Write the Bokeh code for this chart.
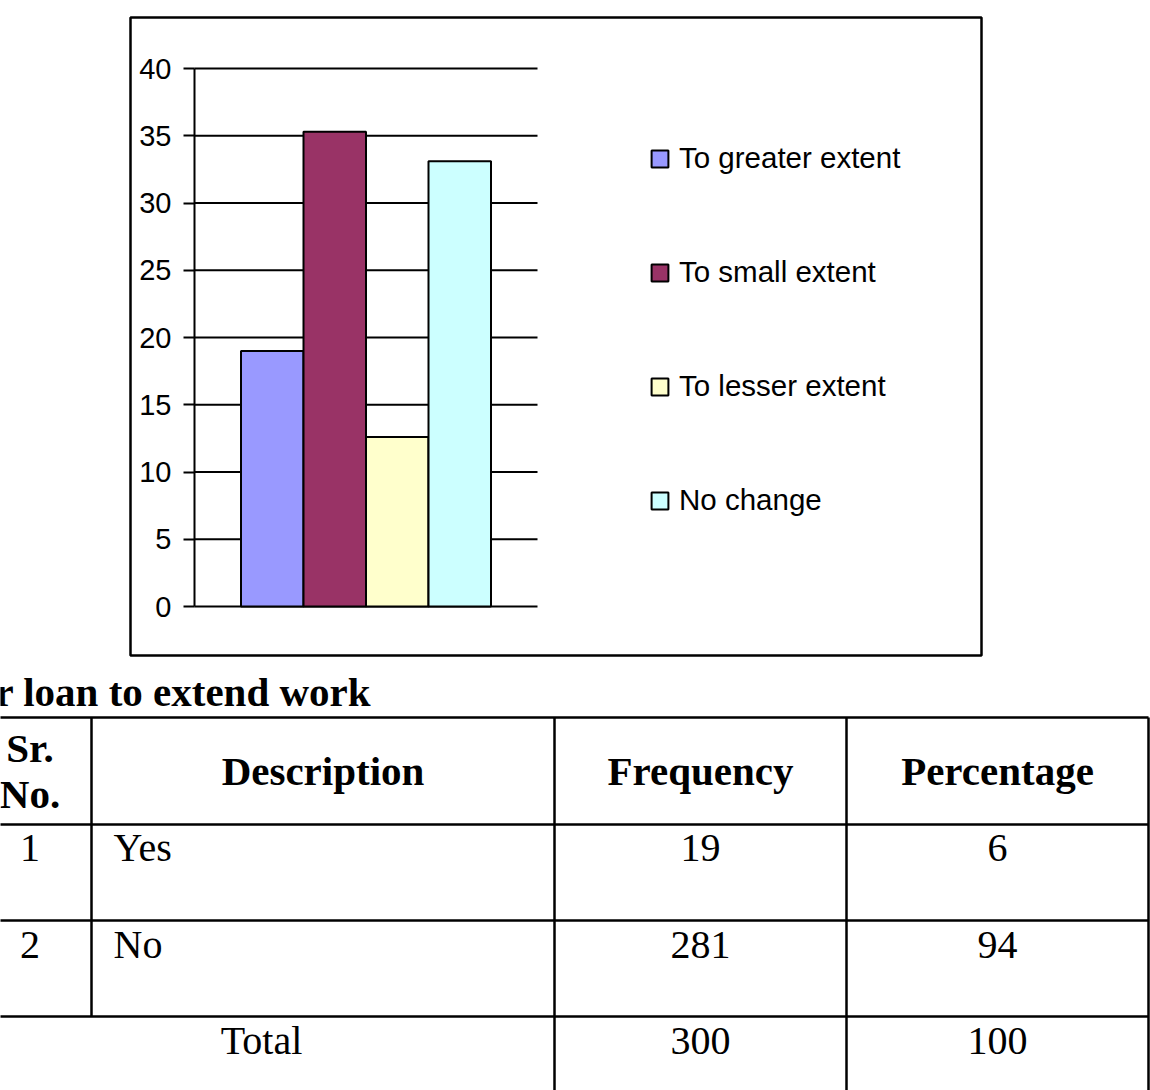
from bokeh.plotting import figure
from bokeh.models import Range1d, FixedTicker, Legend, LegendItem, LinearAxis
from bokeh.core.properties import value
from bokeh.embed import file_html
from bokeh.resources import INLINE

# ---------------- data ----------------
series = ["To greater extent", "To small extent", "To lesser extent", "No change"]
values = [19.0, 35.3, 12.6, 33.1]
colors = ["#9999FF", "#993366", "#FFFFCC", "#CCFFFF"]
y_ticks = [0, 5, 10, 15, 20, 25, 30, 35, 40]

table_title = "r loan to extend work"
header_sr = ["Sr.", "No."]
headers = ["Description", "Frequency", "Percentage"]
sr_no = ["1", "2"]
descriptions = ["Yes", "No"]
frequency = [19, 281]
percentage = [6, 94]
total_label = "Total"
total_frequency = 300
total_percentage = 100

# ---------------- page layout constants (pixels) ----------------
W, H = 1150, 1090
BOX = dict(left=130, right=981, top=17, bottom=655)     # chart border
AX_X, PLOT_R = 194, 537                                  # value axis / right end of gridlines
PY0, PY40 = 606, 68                                      # pixel rows of 0 and 40
BAR_PX = 62.5                                            # width of one bar
GROUP_L = 240.5                                          # left edge of first bar
SANS = value("Liberation Sans")
SERIF = value("Liberation Serif")
TY = -13                                                 # baseline correction for table text

# chart coordinate systems (extra ranges mapped onto the page)
ypx = (PY0 - PY40) / 40.0
val_range = Range1d(-(H - PY0) / ypx, PY0 / ypx)
bar_range = Range1d(-GROUP_L / BAR_PX, (W - GROUP_L) / BAR_PX)
ax_loc = (AX_X - GROUP_L) / BAR_PX
grid_end = (PLOT_R - GROUP_L) / BAR_PX

p = figure(width=W, height=H,
           x_range=Range1d(0, W), y_range=Range1d(H, 0),
           output_backend="svg", toolbar_location=None,
           x_axis_location=None, y_axis_location=None,
           min_border_left=0, min_border_right=0, min_border_top=0, min_border_bottom=0)
p.extra_x_ranges = {"bars": bar_range}
p.extra_y_ranges = {"val": val_range}
p.grid.visible = False
p.outline_line_color = None
p.background_fill_color = "white"
p.border_fill_color = "white"

# ---------------- chart ----------------
p.quad(left=[BOX["left"]], right=[BOX["right"]], top=[BOX["top"]], bottom=[BOX["bottom"]],
       fill_alpha=0, line_color="black", line_width=2.5)

p.segment(x0=[ax_loc] * len(y_ticks), x1=[grid_end] * len(y_ticks), y0=y_ticks, y1=y_ticks,
          x_range_name="bars", y_range_name="val", line_color="black", line_width=2)

renderers = []
for i, (name, v, c) in enumerate(zip(series, values, colors)):
    r = p.vbar(x=[i + 0.5], top=[v], bottom=0, width=1.0,
               x_range_name="bars", y_range_name="val",
               fill_color=c, line_color="black", line_width=2)
    renderers.append(r)

ticker = FixedTicker(ticks=y_ticks)
yax = LinearAxis(x_range_name="bars", y_range_name="val", fixed_location=ax_loc,
                 bounds=(0, 40), ticker=ticker)
yax.axis_line_color = "black"
yax.axis_line_width = 2
yax.major_tick_line_color = "black"
yax.major_tick_line_width = 2
yax.major_tick_out = 11
yax.major_tick_in = 0
yax.minor_tick_line_color = None
yax.major_label_standoff = 12
yax.major_label_text_font = "Liberation Sans"
yax.major_label_text_font_size = "29px"
yax.major_label_text_color = "black"
p.add_layout(yax, "left")

legend = Legend(items=[LegendItem(label=s, renderers=[r]) for s, r in zip(series, renderers)],
                location=(649, H - 517), orientation="vertical",
                padding=0, margin=0, spacing=80,
                glyph_width=21, glyph_height=21, label_height=32, label_standoff=9,
                label_text_font="Liberation Sans", label_text_font_size="29.5px",
                label_text_color="black",
                border_line_color=None, background_fill_alpha=0)
p.add_layout(legend, "center")

# ---------------- table ----------------
col_edges = [-32, 91, 554, 846, 1148]
row_edges = [717, 824, 920, 1016, 1112]
col_centers = [(a + b) / 2 for a, b in zip(col_edges[:-1], col_edges[1:])]

p.segment(x0=[col_edges[0]] * 4, x1=[col_edges[-1]] * 4, y0=row_edges[:4], y1=row_edges[:4],
          line_color="black", line_width=2.5)
vx = col_edges[1:]
vy1 = [row_edges[3], row_edges[4], row_edges[4], row_edges[4]]
p.segment(x0=vx, x1=vx, y0=[row_edges[0]] * 4, y1=vy1, line_color="black", line_width=2.5)

p.text(x=[-5], y=[704 + TY], text=[table_title], text_font=SERIF, text_font_style="bold",
       text_font_size="41px", text_align="left", text_baseline="alphabetic", text_color="black")

p.text(x=[col_centers[0]] * 2, y=[760 + TY, 806 + TY], text=header_sr, text_font=SERIF,
       text_font_style="bold", text_font_size="41px", text_align="center",
       text_baseline="alphabetic", text_color="black")
p.text(x=col_centers[1:], y=[783 + TY] * 3, text=headers, text_font=SERIF,
       text_font_style="bold", text_font_size="41px", text_align="center",
       text_baseline="alphabetic", text_color="black")

row_base = [860 + TY, 957 + TY]
p.text(x=[col_centers[0]] * 2, y=row_base, text=sr_no, text_font=SERIF,
       text_font_size="40px", text_align="center", text_baseline="alphabetic", text_color="black")
p.text(x=[col_edges[1] + 22] * 2, y=row_base, text=descriptions, text_font=SERIF,
       text_font_size="40px", text_align="left", text_baseline="alphabetic", text_color="black")
p.text(x=[col_centers[2]] * 2, y=row_base, text=[str(f) for f in frequency], text_font=SERIF,
       text_font_size="40px", text_align="center", text_baseline="alphabetic", text_color="black")
p.text(x=[col_centers[3]] * 2, y=row_base, text=[str(q) for q in percentage], text_font=SERIF,
       text_font_size="40px", text_align="center", text_baseline="alphabetic", text_color="black")

total_x = [(col_edges[0] + col_edges[2]) / 2, col_centers[2], col_centers[3]]
p.text(x=total_x, y=[1053 + TY] * 3, text=[total_label, str(total_frequency), str(total_percentage)],
       text_font=SERIF, text_font_size="40px", text_align="center",
       text_baseline="alphabetic", text_color="black")

open("out.html", "w").write(file_html(p, INLINE))
